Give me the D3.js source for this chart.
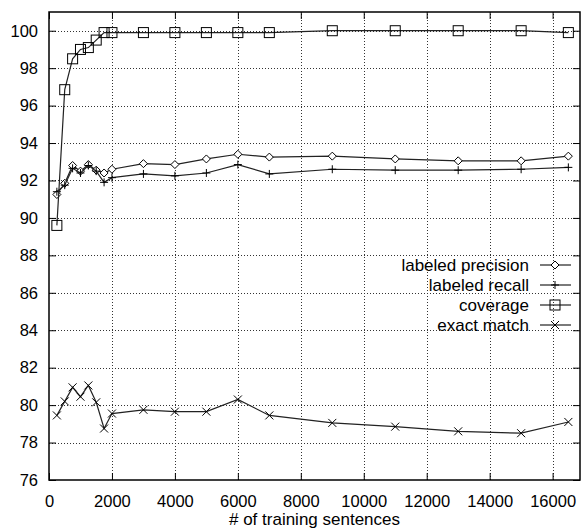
<!DOCTYPE html>
<html>
<head>
<meta charset="utf-8">
<script src="https://cdn.jsdelivr.net/npm/d3@7"></script>
<style>
  body { margin: 0; background: #fff; }
  svg text { font-family: "Liberation Sans", Arial, sans-serif; fill: #000; }
</style>
</head>
<body>
<svg id="chart" width="582" height="529"></svg>
<script>
'use strict';

// training set sizes (x)
const sizes = [250, 500, 750, 1000, 1250, 1500, 1750, 2000, 3000, 4000, 5000, 6000, 7000, 9000, 11000, 13000, 15000, 16500];

const labeled_precision = [91.25, 91.85, 92.8, 92.5, 92.85, 92.55, 92.4, 92.6, 92.9, 92.85, 93.15, 93.4, 93.25, 93.3, 93.15, 93.05, 93.05, 93.3];
const labeled_recall = [91.4, 91.75, 92.65, 92.4, 92.8, 92.5, 91.9, 92.15, 92.35, 92.25, 92.4, 92.85, 92.35, 92.6, 92.55, 92.55, 92.6, 92.7];
const coverage = [89.6, 96.85, 98.5, 99.0, 99.1, 99.5, 99.9, 99.9, 99.9, 99.9, 99.9, 99.9, 99.9, 100, 100, 100, 100, 99.9];
const exact_match = [79.45, 80.2, 80.95, 80.45, 81.05, 80.15, 78.75, 79.55, 79.75, 79.65, 79.65, 80.3, 79.45, 79.05, 78.85, 78.6, 78.5, 79.1];

const series_names = ["labeled precision", "labeled recall", "coverage", "exact match"];
const series_marks = ["diamond", "plus", "square", "cross"];

const x_ticks = d3.range(0, 16001, 2000);
const y_ticks = d3.range(76, 100.1, 2);

const margin = {left: 49, right: 2, top: 12, bottom: 49};
const width = 582, height = 529;
const font_size = 16.5;

const svg = d3.select("#chart");

const x = d3.scaleLinear().domain([0, 16870]).range([margin.left, width - margin.right]);
const y = d3.scaleLinear().domain([76, 101]).range([height - margin.bottom, margin.top]);

// grid
const grid = svg.append("g").attr("class", "grid")
	.attr("stroke", "#333").attr("stroke-width", 1).attr("stroke-dasharray", "1,2");
grid.selectAll(".vgrid").data(x_ticks.filter(d => d > 0)).enter()
	.append("line")
	.attr("x1", d => Math.round(x(d)) + 0.5).attr("x2", d => Math.round(x(d)) + 0.5)
	.attr("y1", y.range()[0]).attr("y2", y.range()[1]);
grid.selectAll(".hgrid").data(y_ticks.filter(d => d > 76)).enter()
	.append("line")
	.attr("y1", d => Math.round(y(d)) + 0.5).attr("y2", d => Math.round(y(d)) + 0.5)
	.attr("x1", x.range()[0]).attr("x2", x.range()[1]);

// axes (ticks inward, mirrored)
const bottom = svg.append("g")
	.attr("transform", `translate(0,${y.range()[0]})`)
	.call(d3.axisBottom(x).tickValues(x_ticks).tickFormat(d3.format("d")).tickSize(-7).tickPadding(15).tickSizeOuter(0));
const top_axis = svg.append("g")
	.attr("transform", `translate(0,${y.range()[1]})`)
	.call(d3.axisTop(x).tickValues(x_ticks).tickSize(-7).tickFormat("").tickSizeOuter(0));
const left = svg.append("g")
	.attr("transform", `translate(${x.range()[0]},0)`)
	.call(d3.axisLeft(y).tickValues(y_ticks).tickFormat(d3.format("d")).tickSize(-7).tickPadding(11).tickSizeOuter(0));
const right = svg.append("g")
	.attr("transform", `translate(${x.range()[1]},0)`)
	.call(d3.axisRight(y).tickValues(y_ticks).tickSize(-7).tickFormat("").tickSizeOuter(0));

[bottom, top_axis, left, right].forEach(g => {
	g.select(".domain").remove();
	g.selectAll("text").attr("font-size", font_size).attr("font-family", "Liberation Sans, Arial, sans-serif");
	g.selectAll("line").attr("stroke", "#000");
});

// frame
svg.append("rect")
	.attr("x", x.range()[0]).attr("y", y.range()[1])
	.attr("width", x.range()[1] - x.range()[0]).attr("height", y.range()[0] - y.range()[1])
	.attr("fill", "none").attr("stroke", "#000").attr("stroke-width", 1.5);

svg.append("text")
	.attr("x", (x.range()[0] + x.range()[1]) / 2).attr("y", 525)
	.attr("text-anchor", "middle").attr("font-size", 17)
	.text("# of training sentences");

// markers
function marker(g, kind, cx, cy) {
	if (kind == "diamond") {
		g.append("path").attr("d", `M${cx},${cy-4}L${cx+4},${cy}L${cx},${cy+4}L${cx-4},${cy}Z`)
			.attr("fill", "#fff").attr("stroke", "#000");
	} else if (kind == "plus") {
		g.append("path").attr("d", `M${cx-4},${cy}H${cx+4}M${cx},${cy-4}V${cy+4}`).attr("stroke", "#000");
	} else if (kind == "square") {
		g.append("rect").attr("x", cx - 5).attr("y", cy - 5).attr("width", 10).attr("height", 10)
			.attr("fill", "none").attr("stroke", "#000");
	} else {
		g.append("path").attr("d", `M${cx-4},${cy-4}L${cx+4},${cy+4}M${cx-4},${cy+4}L${cx+4},${cy-4}`).attr("stroke", "#000");
	}
}

const all_series = [labeled_precision, labeled_recall, coverage, exact_match];
const line = d3.line().x(d => x(d[0])).y(d => y(d[1]));

all_series.forEach((vals, i) => {
	const pts = sizes.map((s, j) => [s, vals[j]]);
	const g = svg.append("g").attr("class", "series");
	g.append("path").datum(pts).attr("d", line)
		.attr("fill", "none").attr("stroke", "#222").attr("stroke-width", 1.2);
	pts.forEach(p => marker(g, series_marks[i], x(p[0]), y(p[1])));
});

// legend
const legend = svg.append("g").attr("class", "legend");
series_names.forEach((name, i) => {
	const ly = 265 + i * 20;
	legend.append("text").attr("x", 529).attr("y", ly + 6)
		.attr("text-anchor", "end").attr("font-size", 17).text(name);
	legend.append("line").attr("x1", 540).attr("x2", 571).attr("y1", ly).attr("y2", ly)
		.attr("stroke", "#222").attr("stroke-width", 1.2);
	marker(legend, series_marks[i], 555, ly);
});
</script>
</body>
</html>
